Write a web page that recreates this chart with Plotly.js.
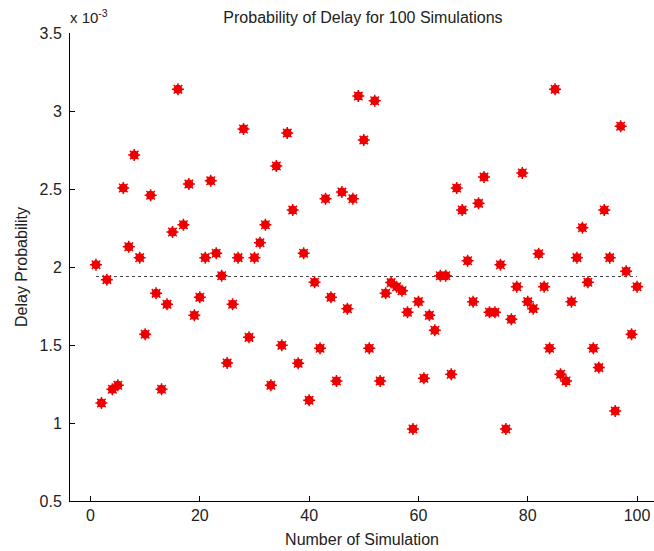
<!DOCTYPE html>
<html>
<head>
<meta charset="utf-8">
<script src="https://cdn.plot.ly/plotly-3.0.1.min.js"></script>
<style>
html,body{margin:0;padding:0;background:#fff;}
#chart{width:654px;height:551px;}
</style>
</head>
<body>
<div id="chart"></div>
<script>
// Simulation numbers
const simulations = Array.from({length: 100}, (_, i) => i + 1);
// Delay probability (x 10^-3)
const delayProbability = [
  2.015, 1.128, 1.919, 1.216, 1.242, 2.506, 2.130, 2.718, 2.060, 1.569,
  2.460, 1.831, 1.216, 1.761, 2.224, 3.139, 2.271, 2.532, 1.690, 1.806,
  2.060, 2.553, 2.088, 1.944, 1.385, 1.761, 2.060, 2.885, 1.549, 2.060,
  2.156, 2.271, 1.242, 2.647, 1.498, 2.859, 2.365, 1.383, 2.088, 1.146,
  1.902, 1.479, 2.438, 1.806, 1.269, 2.481, 1.733, 2.438, 3.096, 2.814,
  1.479, 3.066, 1.269, 1.831, 1.900, 1.874, 1.848, 1.710, 0.962, 1.778,
  1.287, 1.690, 1.594, 1.944, 1.944, 1.312, 2.506, 2.365, 2.040, 1.778,
  2.408, 2.577, 1.710, 1.710, 2.015, 0.962, 1.665, 1.874, 2.603, 1.778,
  1.733, 2.085, 1.874, 1.479, 3.139, 1.312, 1.269, 1.778, 2.060, 2.252,
  1.902, 1.479, 1.355, 2.365, 2.060, 1.077, 2.902, 1.972, 1.569, 1.874
];
const xTicks = [0, 20, 40, 60, 80, 100];
const yTicks = [0.5, 1, 1.5, 2, 2.5, 3, 3.5];
const yTickLabels = ['0.5', '1', '1.5', '2', '2.5', '3', '3.5'];

const meanValue = delayProbability.reduce((a, b) => a + b, 0) / delayProbability.length;
const meanX = [simulations[0], simulations[simulations.length - 1]];
const meanY = [meanValue, meanValue];

const fam = 'Liberation Sans, Arial, sans-serif';
const font = {family: fam, size: 16, color: '#222'};

const traces = [
  {
    x: meanX, y: meanY, mode: 'lines', type: 'scatter',
    line: {color: '#444', width: 1, dash: 'dot'}, hoverinfo: 'skip', showlegend: false
  },
  {
    x: simulations, y: delayProbability, mode: 'markers', type: 'scatter',
    marker: {symbol: 'circle', size: 9, color: '#ee0000', line: {width: 0}},
    showlegend: false
  },
  {
    x: simulations, y: delayProbability, mode: 'markers', type: 'scatter',
    marker: {symbol: 'asterisk-open', size: 10, color: '#ee0000', line: {width: 1.5, color: '#ee0000'}},
    showlegend: false
  }
];

const layout = {
  width: 654, height: 551,
  margin: {l: 70, r: 0, t: 33, b: 50, pad: 0},
  paper_bgcolor: '#fff', plot_bgcolor: '#fff',
  font: font,
  showlegend: false,
  title: {text: 'Probability of Delay for 100 Simulations', font: font, x: 0.555, xanchor: 'center', y: 0.969, yanchor: 'middle'},
  xaxis: {
    range: [-3.75, 103.1], tickvals: xTicks, ticktext: xTicks.map(String),
    ticks: 'inside', ticklen: 5, tickcolor: '#000', tickwidth: 1,
    showline: true, linecolor: '#000', linewidth: 1, mirror: false,
    showgrid: false, zeroline: false, automargin: false,
    tickfont: font,
    title: {text: 'Number of Simulation', font: font, standoff: 10}
  },
  yaxis: {
    range: [0.5, 3.5], tickvals: yTicks, ticktext: yTickLabels,
    ticks: 'inside', ticklen: 5, tickcolor: '#000', tickwidth: 1,
    showline: true, linecolor: '#000', linewidth: 1, mirror: false,
    showgrid: false, zeroline: false, automargin: false,
    tickfont: font, ticklabelstandoff: 4,
    title: {text: 'Delay Probability', font: font, standoff: 7}
  },
  annotations: [
    {
      text: 'x 10<sup>-3</sup>', xref: 'paper', yref: 'paper', x: 0, y: 1,
      xanchor: 'left', yanchor: 'bottom', xshift: -2, yshift: 5, showarrow: false,
      font: {family: fam, size: 15, color: '#222'}
    }
  ]
};

Plotly.newPlot('chart', traces, layout, {displayModeBar: false, staticPlot: true});
</script>
</body>
</html>
